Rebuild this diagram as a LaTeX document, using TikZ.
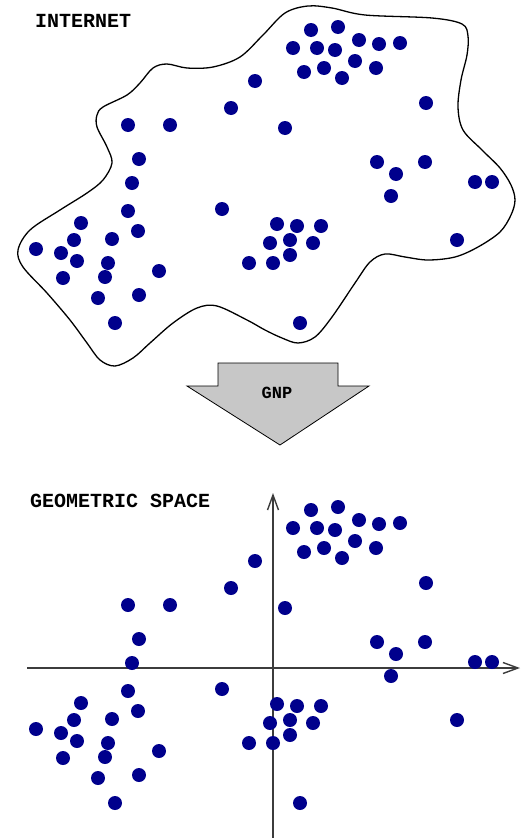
\documentclass[tikz,border=0pt]{standalone}
\usepackage{fontspec}
\setmonofont{Liberation Mono}
\usetikzlibrary{arrows.meta}
\definecolor{dotblue}{RGB}{0,0,140}
\definecolor{axisgray}{RGB}{60,60,60}
\tikzset{
    dot/.style={fill=dotblue},
    cloud/.style={draw=black, line width=1.3pt},
    title/.style={anchor=base west, inner sep=0pt,
        font=\ttfamily\bfseries\fontsize{20}{24}\selectfont},
    bigarrow/.style={draw=black, line width=0.8pt, fill=black!22},
    axis/.style={draw=axisgray, line width=1.4pt,
        -{Straight Barb[length=15pt,width=11pt,line width=1.4pt]}}
}
\newcommand{\dotlist}{311/30, 338/27, 293/48, 317/48, 335/50, 359/40, 379/44,
    400/43, 304/72, 324/68, 342/78, 355/61, 376/68, 426/103, 285/128,
    255/81, 231/108, 128/125, 170/125, 139/159, 132/183, 377/162,
    425/162, 396/174, 475/182, 492/182, 391/196, 128/211, 222/209,
    81/223, 74/240, 36/249, 61/253, 77/261, 112/239, 138/231, 108/263,
    105/277, 63/278, 159/271, 98/298, 139/295, 115/323, 277/224,
    297/226, 321/226, 270/243, 290/240, 313/243, 273/263, 290/255,
    249/263, 457/240, 300/323}
\begin{document}
\begin{tikzpicture}[x=1pt, y=-1pt]
    \useasboundingbox (0,0) rectangle (529,838);

    % internet cloud
    \draw[cloud] plot[smooth cycle, tension=0.55] coordinates {
        (308,6) (332,8) (365,15) (432,18) (462,24) (468,36) (467,55)
        (461,80) (458,107) (463,130) (482,150) (500,168) (511,185)
        (515,200) (511,215) (500,232) (478,247) (455,257) (428,260)
        (405,257) (385,254) (370,262) (355,283) (332,317) (315,337)
        (298,343) (282,338) (265,330) (247,320) (217,306) (197,308)
        (173,323) (150,343) (133,358) (115,366) (100,360) (87,343)
        (70,320) (47,293) (23,267) (18,250) (30,230) (60,210) (87,193)
        (103,180) (112,163) (107,147) (97,127) (97,115) (103,107)
        (127,95) (140,83) (153,68) (167,64) (187,68) (213,67) (240,57)
        (263,35) (285,13)};
    \node[title] (internet) at (35,27) {INTERNET};
    \foreach \x/\y in \dotlist
        \fill[dot] (\x,\y) circle[radius=7pt];

    % mapping arrow
    \draw[bigarrow] (218,363) -- (338,363) -- (338,386) -- (369,386)
        -- (280,445) -- (187,386) -- (218,386) -- cycle;
    \node[font=\ttfamily\bfseries\fontsize{17}{20}\selectfont]
        (gnp) at (277,393) {GNP};

    % geometric space
    \node[title] (geo) at (30,507) {GEOMETRIC SPACE};
    \coordinate (xs) at (27,668);
    \coordinate (xe) at (520,668);
    \coordinate (ys) at (273,838);
    \coordinate (ye) at (273,493);
    \draw[axis] (xs) -- (xe);
    \draw[axis] (ys) -- (ye);
    \begin{scope}[shift={(0,480)}]
        \foreach \x/\y in \dotlist
            \fill[dot] (\x,\y) circle[radius=7pt];
    \end{scope}

\end{tikzpicture}
\end{document}
